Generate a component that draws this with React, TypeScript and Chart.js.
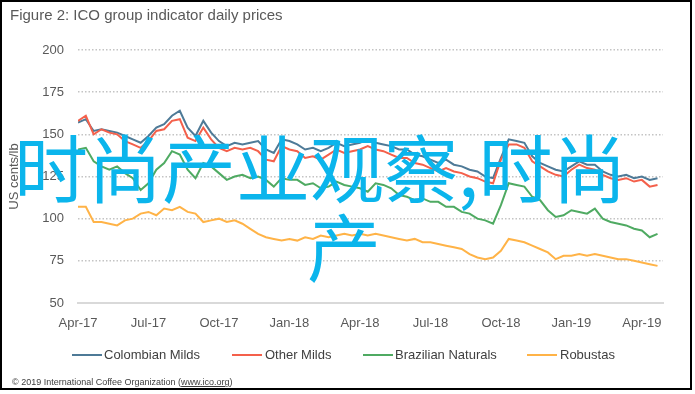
import React, { useEffect, useRef } from 'react';
import { Chart, registerables } from 'chart.js';

Chart.register(...registerables);

// ---- data (one point every 1/3 month from Apr-17) ----
const xTickLabels = ['Apr-17', 'Jul-17', 'Oct-17', 'Jan-18', 'Apr-18', 'Jul-18', 'Oct-18', 'Jan-19', 'Apr-19'];
const seriesNames = ['Colombian Milds', 'Other Milds', 'Brazilian Naturals', 'Robustas'];
const seriesColors = ['#4E7A97', '#F4604B', '#4FAA62', '#FFB347'];
const STEP_MONTHS = 1 / 3;

const colombianMilds = [
  157, 159, 152, 153, 152, 151, 149, 147, 145, 149, 154, 156, 161, 164, 154, 149, 158, 151, 146, 143,
  145, 144, 145, 146, 141, 139, 147, 146, 144, 141, 142, 140, 142, 145, 143, 144, 145, 147, 145, 144,
  143, 141, 141, 138, 137, 135, 133, 135, 132, 131, 129, 128, 125, 124, 136, 147, 146, 145, 137, 133,
  131, 129, 128, 131, 134, 132, 132, 128, 126, 125, 126, 124, 125, 123, 124,
];
const otherMilds = [
  158, 161, 150, 153, 151, 150, 146, 144, 142, 146, 152, 153, 158, 159, 148, 146, 154, 147, 142, 140,
  142, 141, 142, 140, 135, 134, 143, 141, 140, 136, 137, 135, 138, 141, 139, 140, 141, 143, 141, 140,
  138, 136, 136, 133, 132, 130, 128, 130, 128, 127, 125, 124, 122, 121, 135, 144, 144, 142, 134, 131,
  128, 126, 125, 129, 132, 130, 129, 126, 124, 123, 124, 122, 123, 119, 120,
];
const brazilianNaturals = [
  141, 142, 134, 131, 129, 131, 127, 124, 117, 121, 129, 133, 140, 138, 129, 124, 133, 131, 127, 123,
  125, 126, 124, 125, 123, 119, 124, 123, 123, 120, 121, 118, 119, 122, 120, 119, 118, 116, 121, 120,
  118, 114, 113, 111, 112, 110, 110, 107, 107, 104, 103, 100, 99, 97, 108, 121, 120, 119, 113, 111,
  105, 101, 102, 105, 104, 103, 106, 100, 98, 97, 96, 94, 93, 89, 91,
];
const robustas = [
  107, 107, 98, 98, 97, 96, 99, 100, 103, 104, 102, 106, 105, 107, 104, 103, 98, 99, 100, 98,
  99, 97, 94, 91, 89, 88, 87, 88, 87, 89, 88, 90, 89, 90, 91, 90, 91, 90, 91, 90,
  89, 88, 87, 88, 86, 86, 85, 84, 83, 82, 79, 77, 76, 77, 81, 88, 87, 86, 84, 82,
  80, 76, 78, 78, 79, 78, 79, 78, 77, 76, 76, 75, 74, 73, 72,
];
const allSeries = [colombianMilds, otherMilds, brazilianNaturals, robustas];

const FONT = '"Liberation Sans", Arial, sans-serif';

export default function App() {
  const ref = useRef<HTMLCanvasElement>(null);

  useEffect(() => {
    if (!ref.current) return;
    const chart = new Chart(ref.current, {
      type: 'line',
      data: {
        datasets: allSeries.map((arr, i) => ({
          label: seriesNames[i],
          data: arr.map((v, j) => ({ x: j * STEP_MONTHS, y: v })),
          borderColor: seriesColors[i],
          backgroundColor: seriesColors[i],
          borderWidth: 2,
          pointRadius: 0,
          tension: 0,
          fill: false,
          order: allSeries.length - 1 - i,
        })),
      },
      options: {
        responsive: false,
        animation: false,
        events: [],
        layout: { padding: { left: 7, top: 50, right: 32, bottom: 61 } },
        plugins: { legend: { display: false }, tooltip: { enabled: false } },
        scales: {
          x: {
            type: 'linear',
            min: 0,
            max: 24.9,
            afterFit: (s: any) => { s.height = 30; },
            ticks: {
              stepSize: 3,
              includeBounds: false,
              autoSkip: false,
              maxRotation: 0,
              padding: 13,
              color: '#595959',
              font: { family: FONT, size: 13 },
              callback: (v: any) => xTickLabels[Math.round(Number(v) / 3)] ?? '',
            },
            grid: { display: false, drawTicks: false },
            border: { display: true, color: '#d9d9d9', width: 2 },
          },
          y: {
            min: 50,
            max: 200,
            afterFit: (s: any) => { s.width = 71; },
            ticks: {
              stepSize: 25,
              padding: 14,
              color: '#595959',
              font: { family: FONT, size: 13 },
            },
            grid: {
              drawTicks: false,
              lineWidth: 1.5,
              color: (ctx: any) => (ctx.tick && ctx.tick.value === 50 ? 'rgba(0,0,0,0)' : '#c4c4c4'),
            },
            border: { display: false, dash: [1.5, 2] },
            title: {
              display: true,
              text: 'US cents/lb',
              color: '#595959',
              padding: 0,
              font: { family: FONT, size: 13 },
            },
          },
        },
      },
    });
    return () => chart.destroy();
  }, []);

  const legendPos = [
    { line: 72, text: 104 },
    { line: 232, text: 265 },
    { line: 363, text: 395 },
    { line: 527, text: 560 },
  ];

  return (
    <div style={{ position: 'absolute', left: 0, top: 0, width: 695, height: 394, background: '#fff', fontFamily: FONT }}>
      <canvas ref={ref} width={695} height={394} style={{ position: 'absolute', left: 0, top: 0, width: 695, height: 394 }} />
      <div style={{ position: 'absolute', left: 0, top: 0, width: 692, height: 390, border: '2px solid #000', boxSizing: 'border-box', pointerEvents: 'none' }} />
      <div style={{ position: 'absolute', left: 10, top: 6, fontSize: 15, color: '#595959', whiteSpace: 'nowrap', lineHeight: '18px' }}>
        Figure 2: ICO group indicator daily prices
      </div>
      {seriesNames.map((n, i) => (
        <React.Fragment key={n}>
          <div style={{ position: 'absolute', left: legendPos[i].line, top: 354, width: 30, height: 2, background: seriesColors[i] }} />
          <div style={{ position: 'absolute', left: legendPos[i].text, top: 347, fontSize: 13, lineHeight: '16px', color: '#404040', whiteSpace: 'nowrap' }}>{n}</div>
        </React.Fragment>
      ))}
      <div style={{ position: 'absolute', left: 12, top: 376, fontSize: 9, lineHeight: '12px', color: '#404040', whiteSpace: 'nowrap' }}>
        © 2019 International Coffee Organization (<span style={{ textDecoration: 'underline' }}>www.ico.org</span>)
      </div>
      <div style={{ position: 'absolute', left: 14, top: 128, fontSize: 74, lineHeight: '74px', color: '#0BB5EC', fontFamily: '"Noto Sans CJK SC", sans-serif', whiteSpace: 'nowrap', pointerEvents: 'none' }}>
        时尚产业观察,时尚
      </div>
      <div style={{ position: 'absolute', left: 307, top: 207, fontSize: 74, lineHeight: '74px', color: '#0BB5EC', fontFamily: '"Noto Sans CJK SC", sans-serif', whiteSpace: 'nowrap', pointerEvents: 'none' }}>
        产
      </div>
    </div>
  );
}
